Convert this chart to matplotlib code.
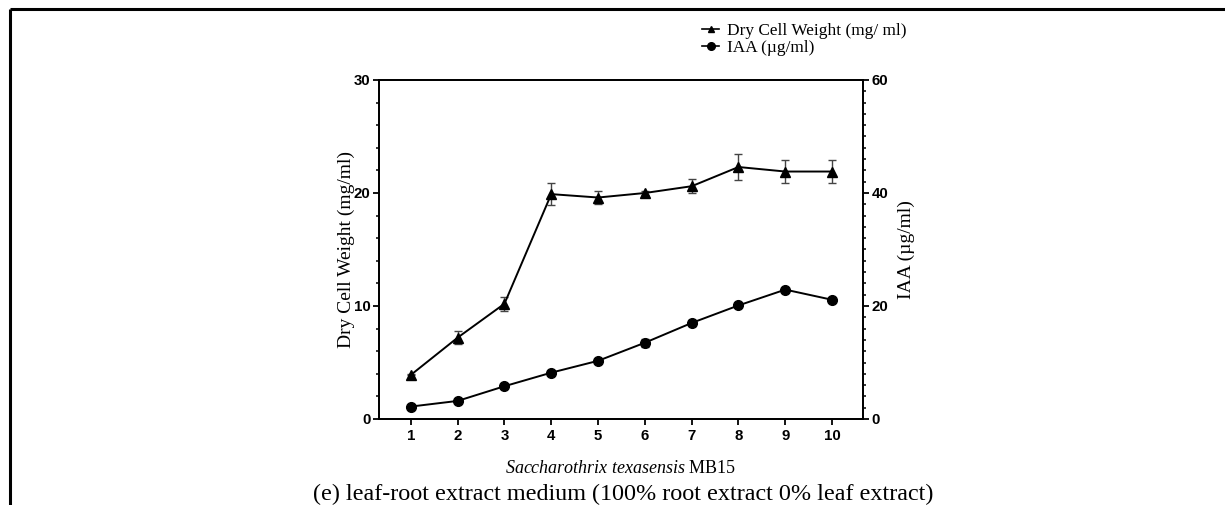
import matplotlib
matplotlib.use("Agg")
import matplotlib.pyplot as plt
from matplotlib.ticker import MultipleLocator
from matplotlib.lines import Line2D

plt.rcParams["mathtext.fontset"] = "custom"
plt.rcParams["mathtext.it"] = "Liberation Serif:italic"
plt.rcParams["mathtext.rm"] = "Liberation Serif"

# Sampling points along the x axis
samples = [1, 2, 3, 4, 5, 6, 7, 8, 9, 10]

# Dry cell weight (mg/ml) with standard deviations
dcw = [3.9, 7.2, 10.2, 19.9, 19.6, 20.0, 20.6, 22.3, 21.9, 21.9]
dcw_err = [0.05, 0.6, 0.6, 1.0, 0.55, 0.15, 0.6, 1.15, 1.0, 1.0]

# IAA production (µg/ml) with standard deviations
iaa = [2.2, 3.2, 5.8, 8.2, 10.3, 13.5, 17.0, 20.1, 22.9, 21.1]
iaa_err = [0.2, 0.3, 0.3, 0.3, 0.3, 0.7, 0.6, 0.2, 0.3, 0.2]

serif = "Liberation Serif"
sans = "Liberation Sans"

fig = plt.figure(figsize=(12.25, 5.05), dpi=100)

# Outer frame lines (left and top)
fig.add_artist(Line2D([10 / 1225, 10 / 1225], [0, 1 - 9 / 505], transform=fig.transFigure,
                      color="black", lw=2.2, solid_capstyle="butt"))
fig.add_artist(Line2D([10 / 1225, 1], [1 - 9 / 505, 1 - 9 / 505], transform=fig.transFigure,
                      color="black", lw=2.2, solid_capstyle="butt"))

ax = fig.add_axes([379 / 1225, 1 - 419 / 505, (863 - 379) / 1225, (419 - 80) / 505])
ax2 = ax.twinx()

ax.errorbar(samples, dcw, yerr=dcw_err, color="black", marker="^", ms=6.5, lw=1.4,
            ecolor="#444444", elinewidth=1.0, capsize=3, capthick=1.0)
ax2.errorbar(samples, iaa, yerr=iaa_err, color="black", marker="o", ms=7, lw=1.4,
             ecolor="#444444", elinewidth=1.0, capsize=3, capthick=1.0)

ax.set_xlim(0.32, 10.66)
ax.set_ylim(0, 30)
ax2.set_ylim(0, 60)

ax.set_xticks(samples)
ax.yaxis.set_major_locator(MultipleLocator(10))
ax.yaxis.set_minor_locator(MultipleLocator(2))
ax2.yaxis.set_major_locator(MultipleLocator(20))
ax2.yaxis.set_minor_locator(MultipleLocator(2))

for a in (ax, ax2):
    for s in a.spines.values():
        s.set_linewidth(1.3)
    a.tick_params(which="major", length=4.5, width=1.3, labelsize=10.8, pad=1.5)
    a.tick_params(which="minor", length=2.5, width=1.1)
    for lab in a.get_xticklabels() + a.get_yticklabels():
        lab.set_fontfamily(sans)
        lab.set_fontweight("bold")

ax.tick_params(axis="x", pad=3)

ax.set_ylabel("Dry Cell Weight (mg/ml)", family=serif, fontsize=14, labelpad=-1)
ax2.set_ylabel("IAA (µg/ml)", family=serif, fontsize=14, labelpad=7)

ax.set_xlabel(r"$\it{Saccharothrix\ texasensis}$ MB15", family=serif, fontsize=13, labelpad=12)

# Legend
handles = [Line2D([], [], color="black", marker="^", ms=5, lw=1.2),
           Line2D([], [], color="black", marker="o", ms=5.5, lw=1.2)]
fig.legend(handles, ["Dry Cell Weight (mg/ ml)", "IAA (µg/ml)"],
           loc="upper left", bbox_to_anchor=(702 / 1225, 1 - 23 / 505),
           frameon=False, prop={"family": serif, "size": 12.4},
           handlelength=1.0, handletextpad=0.45, labelspacing=0.05, borderaxespad=0,
           borderpad=0)

fig.text(623 / 1225, 1 - 494 / 505, "(e) leaf-root extract medium (100% root extract 0% leaf extract)",
         ha="center", va="center", family=serif, fontsize=17.4)

fig.savefig("out.png", dpi=100)
